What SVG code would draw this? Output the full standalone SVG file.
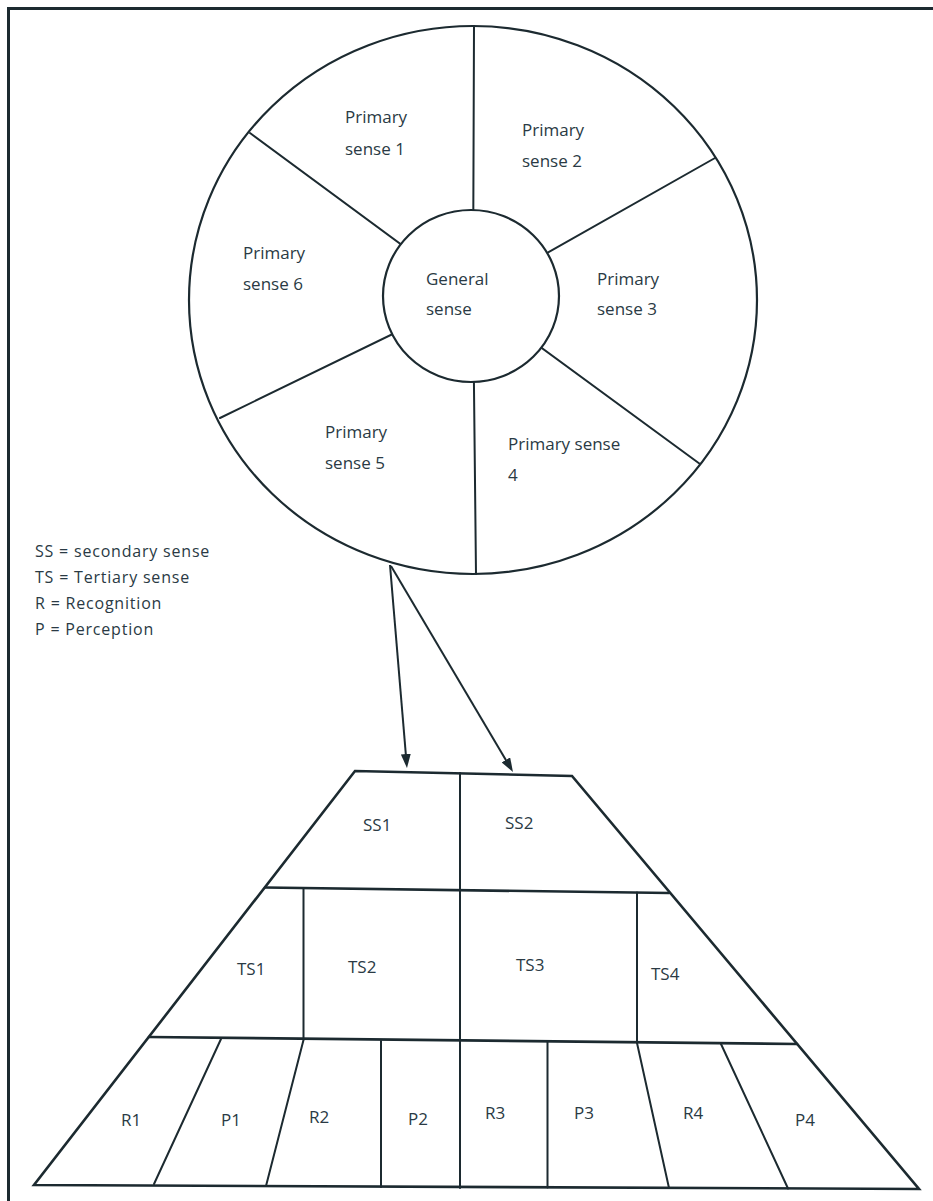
<svg xmlns="http://www.w3.org/2000/svg" width="933" height="1201" viewBox="0 0 933 1201">
  <style>
    .frame { fill: none; stroke: #1c2a30; stroke-width: 3; }
    .edge { fill: none; stroke: #1c2a30; stroke-width: 2; stroke-linecap: round; }
    .thick { fill: none; stroke: #1c2a30; stroke-width: 2.6; stroke-linecap: round; }
    .disc { fill: #ffffff; stroke: #1c2a30; stroke-width: 2.2; }
    .lbl { font-family: "Open Sans", "Liberation Sans", sans-serif; font-size: 17px; fill: #2a3a44; }
    .key { font-family: "Open Sans", "Liberation Sans", sans-serif; font-size: 16px; letter-spacing: 0.8px; fill: #2a3a44; }
    .arrow { fill: none; stroke: #1c2a30; stroke-width: 2; }
  </style>
  <defs>
    <marker id="head" markerUnits="userSpaceOnUse" markerWidth="14" markerHeight="10" refX="6" refY="5" orient="auto">
      <path d="M0,0 L14,5 L0,10 z" fill="#1c2a30"/>
    </marker>
  </defs>

  <rect width="933" height="1201" fill="#ffffff"/>
  <!-- page frame (top and left edges) -->
  <path class="frame" d="M8.5,1201 V8.5 H933"/>

  <!-- wheel: outer ring, spokes, hub -->
  <g id="wheel">
    <ellipse class="disc" cx="473" cy="300" rx="284" ry="274"/>
    <line class="edge" x1="474" y1="26" x2="473" y2="296"/>
    <line class="edge" x1="250" y1="133" x2="471" y2="296"/>
    <line class="edge" x1="715" y1="158" x2="471" y2="296"/>
    <line class="edge" x1="700" y1="464" x2="471" y2="296"/>
    <line class="edge" x1="476" y1="574" x2="473" y2="296"/>
    <line class="edge" x1="220" y1="418" x2="471" y2="296"/>
  </g>

  <g id="general-sense">
    <ellipse class="disc" cx="471" cy="296" rx="88" ry="86"/>
    <text class="lbl" x="426" y="285">General</text>
    <text class="lbl" x="426" y="315">sense</text>
  </g>
  <g id="primary-sense-1">
    <text class="lbl" x="345" y="123">Primary</text>
    <text class="lbl" x="345" y="155">sense 1</text>
  </g>
  <g id="primary-sense-2">
    <text class="lbl" x="522" y="136">Primary</text>
    <text class="lbl" x="522" y="167">sense 2</text>
  </g>
  <g id="primary-sense-3">
    <text class="lbl" x="597" y="285">Primary</text>
    <text class="lbl" x="597" y="315">sense 3</text>
  </g>
  <g id="primary-sense-4">
    <text class="lbl" x="508" y="450">Primary sense</text>
    <text class="lbl" x="508" y="481">4</text>
  </g>
  <g id="primary-sense-5">
    <text class="lbl" x="325" y="438">Primary</text>
    <text class="lbl" x="325" y="469">sense 5</text>
  </g>
  <g id="primary-sense-6">
    <text class="lbl" x="243" y="259">Primary</text>
    <text class="lbl" x="243" y="290">sense 6</text>
  </g>

  <!-- abbreviations -->
  <g id="legend">
    <text class="key" x="35" y="557">SS = secondary sense</text>
    <text class="key" x="35" y="583">TS = Tertiary sense</text>
    <text class="key" x="35" y="609">R = Recognition</text>
    <text class="key" x="35" y="635">P = Perception</text>
  </g>

  <!-- arrows from the wheel down to the secondary senses -->
  <g id="connectors">
    <line class="arrow" x1="390" y1="565" x2="406.3" y2="760" marker-end="url(#head)"/>
    <line class="arrow" x1="391" y1="566" x2="508.9" y2="765.1" marker-end="url(#head)"/>
  </g>

  <!-- pyramid grid -->
  <g id="pyramid">
    <polygon class="thick" points="355,771 572,776 919,1189 34,1185"/>
    <line class="thick" x1="265" y1="887.5" x2="669" y2="893"/>
    <line class="thick" x1="149" y1="1037" x2="797" y2="1044"/>
    <line class="edge" x1="460" y1="773" x2="460" y2="1188"/>
    <line class="edge" x1="303.5" y1="889" x2="303.5" y2="1039.5"/>
    <line class="edge" x1="637" y1="892.5" x2="637" y2="1042.7"/>
    <line class="edge" x1="221" y1="1039" x2="154" y2="1184"/>
    <line class="edge" x1="303.5" y1="1040" x2="266" y2="1186"/>
    <line class="edge" x1="381" y1="1041" x2="381" y2="1187"/>
    <line class="edge" x1="547.5" y1="1042.5" x2="547.5" y2="1187.5"/>
    <line class="edge" x1="637" y1="1043" x2="669" y2="1188"/>
    <line class="edge" x1="721" y1="1044" x2="788" y2="1188.5"/>
  </g>

  <g id="ss1"><text class="lbl" x="363" y="831">SS1</text></g>
  <g id="ss2"><text class="lbl" x="505" y="829">SS2</text></g>
  <g id="ts1"><text class="lbl" x="237" y="975">TS1</text></g>
  <g id="ts2"><text class="lbl" x="348" y="973">TS2</text></g>
  <g id="ts3"><text class="lbl" x="516" y="971">TS3</text></g>
  <g id="ts4"><text class="lbl" x="651" y="980">TS4</text></g>
  <g id="r1"><text class="lbl" x="121" y="1126">R1</text></g>
  <g id="p1"><text class="lbl" x="221" y="1126">P1</text></g>
  <g id="r2"><text class="lbl" x="309" y="1123">R2</text></g>
  <g id="p2"><text class="lbl" x="408" y="1125">P2</text></g>
  <g id="r3"><text class="lbl" x="485" y="1119">R3</text></g>
  <g id="p3"><text class="lbl" x="574" y="1119">P3</text></g>
  <g id="r4"><text class="lbl" x="683" y="1119">R4</text></g>
  <g id="p4"><text class="lbl" x="795" y="1126">P4</text></g>
</svg>
